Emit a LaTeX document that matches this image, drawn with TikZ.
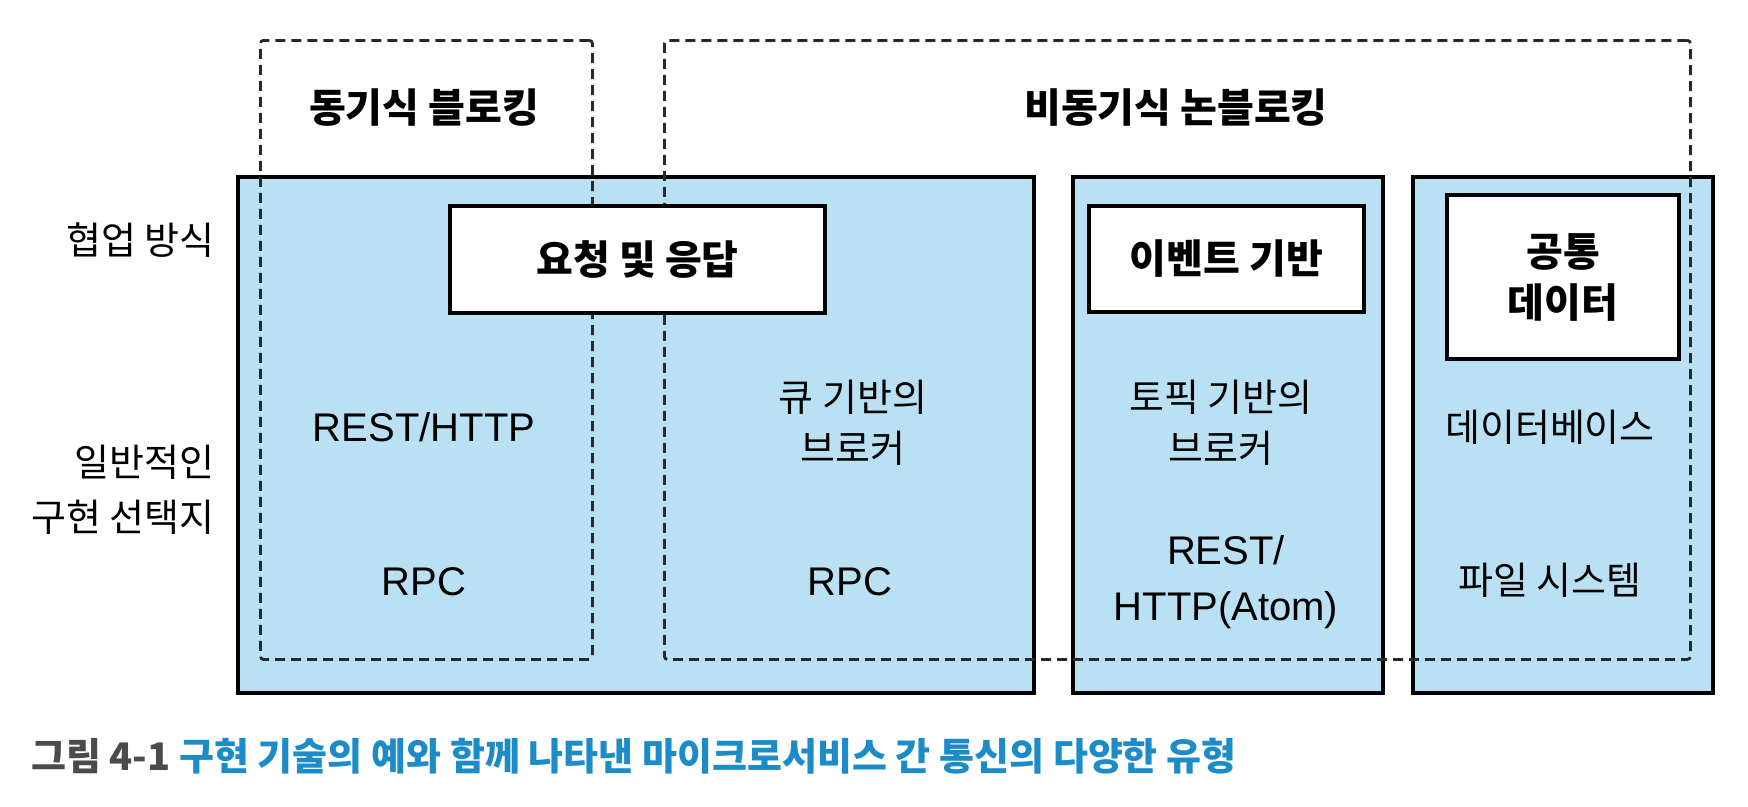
\documentclass[tikz,border=0pt]{standalone}
\usepackage{fontspec}
\setmainfont{Noto Sans CJK KR}
\newfontfamily\latfont{Liberation Sans}
\definecolor{boxblue}{RGB}{185,225,243}
\definecolor{dashgray}{RGB}{40,40,40}
\definecolor{capblue}{RGB}{28,140,200}
\definecolor{capgray}{RGB}{75,75,75}
\begin{document}
\begin{tikzpicture}[x=1pt,y=-1pt,
  bluebox/.style={draw=black, line width=4pt, fill=boxblue, inner sep=0pt, anchor=north west},
  whitebox/.style={draw=black, line width=4pt, fill=white, inner sep=0pt, anchor=north west},
  dashbox/.style={draw=dashgray, line width=2.8pt, dash pattern=on 10pt off 6pt, rounded corners=3pt, inner sep=0pt, anchor=north west},
  lbl/.style={font=\fontsize{38}{51}\selectfont, align=center, inner sep=0pt},
  rowlbl/.style={font=\fontsize{38}{55}\selectfont, align=right, inner sep=0pt, anchor=east},
  latlbl/.style={font=\fontsize{40}{56}\selectfont\latfont, align=center, inner sep=0pt},
  hdr/.style={font=\fontsize{40}{51}\selectfont\bfseries, align=center, inner sep=0pt}]
\useasboundingbox[fill=white] (0,0) rectangle (1748,806);
% blue columns
\node[bluebox, minimum width=796pt, minimum height=516pt] (b1) at (236,175) {};
\node[bluebox, minimum width=310pt, minimum height=516pt] (b2) at (1071,175) {};
\node[bluebox, minimum width=300pt, minimum height=516pt] (b3) at (1411,175) {};
% dashed groups
\node[dashbox, minimum width=332pt, minimum height=619pt] (d1) at (259,39) {};
\node[dashbox, minimum width=1026pt, minimum height=619pt] (d2) at (663,39) {};
% white headers
\node[whitebox, minimum width=375pt, minimum height=107pt] (w1) at (448,204) {};
\node[whitebox, minimum width=275pt, minimum height=106pt] (w2) at (1087,204) {};
\node[whitebox, minimum width=232pt, minimum height=164pt] (w3) at (1445,193) {};
% header texts
\node[hdr] (t1) at (w1.center) {요청 및 응답};
\node[hdr] (t2) at (w2.center) {이벤트 기반};
\node[hdr] (t3) at (w3.center) {공통\\데이터};
\node[hdr] (g1) at (424,108) {동기식 블로킹};
\node[hdr] (g2) at (1176,108) {비동기식 논블로킹};
% row labels
\node[rowlbl] (r1) at (215,240) {협업 방식};
\node[rowlbl] (r2) at (215,490) {일반적인\\구현 선택지};
% contents
\node[latlbl] (c1) at (424,427) {REST/HTTP};
\node[latlbl] (c2) at (424,582) {RPC};
\node[lbl] (c3) at (853,423) {큐 기반의\\브로커};
\node[latlbl] (c4) at (850,582) {RPC};
\node[lbl] (c5) at (1221,423) {토픽 기반의\\브로커};
\node[latlbl] (c6) at (1226,582) {REST/\\HTTP(Atom)};
\node[lbl] (c7) at (1550,427) {데이터베이스};
\node[lbl] (c8) at (1550,580) {파일 시스템};
% caption
\node[anchor=west, inner sep=0pt, font=\fontsize{38}{44}\selectfont\bfseries] (cap) at (31,756)
  {\textcolor{capgray}{그림 4-1} \textcolor{capblue}{구현 기술의 예와 함께 나타낸 마이크로서비스 간 통신의 다양한 유형}};
\end{tikzpicture}
\end{document}
